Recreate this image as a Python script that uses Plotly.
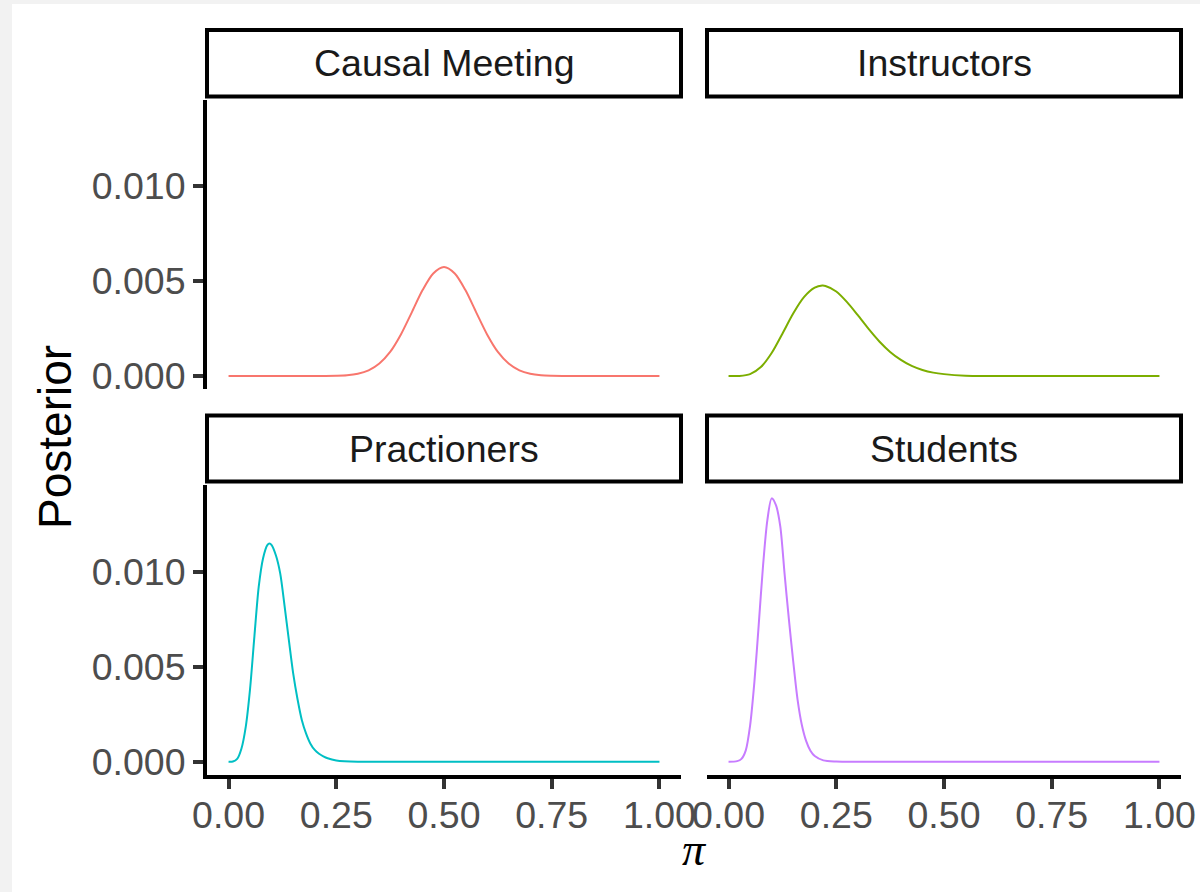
import plotly.graph_objects as go

# ---------------- data ----------------
panel_names = ["Causal Meeting", "Instructors", "Practioners", "Students"]
panel_colors = ["#F8766D", "#7CAE00", "#00BFC4", "#C77CFF"]

pi_causal = [0.0, 0.1, 0.2, 0.225, 0.25, 0.275, 0.3, 0.325, 0.35, 0.375, 0.4, 0.425, 0.45, 0.475,
             0.5, 0.525, 0.55, 0.575, 0.6, 0.625, 0.65, 0.675, 0.7, 0.725, 0.75, 0.775, 0.8, 0.9, 1.0]
post_causal = [0.0, 0.0, 0.000001, 0.000004, 0.000014, 0.00004, 0.00012, 0.00030, 0.00066, 0.00127,
               0.00219, 0.00334, 0.00451, 0.00540, 0.00574, 0.00540, 0.00451, 0.00334, 0.00219,
               0.00127, 0.00066, 0.00030, 0.00012, 0.00004, 0.000014, 0.000004, 0.000001, 0.0, 0.0]

pi_instr = [0.0, 0.025, 0.05, 0.075, 0.1, 0.125, 0.15, 0.175, 0.2, 0.2175, 0.225, 0.25, 0.275, 0.3,
            0.325, 0.35, 0.375, 0.4, 0.425, 0.45, 0.475, 0.5, 0.55, 0.6, 0.7, 0.8, 0.9, 1.0]
post_instr = [0.0, 0.000005, 0.00010, 0.00047, 0.00121, 0.00223, 0.00329, 0.00415, 0.00465, 0.00476,
              0.00474, 0.00445, 0.00389, 0.00320, 0.00248, 0.00182, 0.00127, 0.00085, 0.00053,
              0.00032, 0.00018, 0.00010, 0.00002, 0.000004, 0.0, 0.0, 0.0, 0.0]

pi_pract = [0.0, 0.01, 0.02, 0.03, 0.04, 0.05, 0.06, 0.07, 0.08, 0.09, 0.095, 0.10, 0.11, 0.12, 0.13,
            0.14, 0.15, 0.16, 0.17, 0.18, 0.19, 0.20, 0.21, 0.22, 0.23, 0.25, 0.30, 0.4, 0.6, 0.8, 1.0]
post_pract = [0.0, 0.00001, 0.00015, 0.00070, 0.00185, 0.00385, 0.00660, 0.00920, 0.01070, 0.01140,
              0.01148, 0.01140, 0.01085, 0.00990, 0.00820, 0.00640, 0.00465, 0.00330, 0.00220,
              0.00148, 0.00095, 0.00062, 0.00042, 0.00028, 0.00018, 0.00007, 0.0, 0.0, 0.0, 0.0, 0.0]

pi_stud = [0.0, 0.02, 0.03, 0.04, 0.05, 0.06, 0.07, 0.08, 0.09, 0.10, 0.11, 0.12, 0.13, 0.14, 0.15,
           0.16, 0.17, 0.18, 0.19, 0.20, 0.22, 0.25, 0.30, 0.4, 0.6, 0.8, 1.0]
post_stud = [0.0, 0.00003, 0.00015, 0.00060, 0.00190, 0.00420, 0.00720, 0.01030, 0.01270, 0.01386,
             0.01350, 0.01240, 0.00990, 0.00750, 0.00530, 0.00330, 0.00195, 0.00110, 0.00058,
             0.00030, 0.00007, 0.00001, 0.0, 0.0, 0.0, 0.0, 0.0]

x_tickvals = [0.0, 0.25, 0.5, 0.75, 1.0]
x_ticktext = ["0.00", "0.25", "0.50", "0.75", "1.00"]
y_tickvals = [0.0, 0.005, 0.010]
y_ticktext = ["0.000", "0.005", "0.010"]

x_title = "<i>π</i>"
y_title = "Posterior"

series = [(pi_causal, post_causal), (pi_instr, post_instr), (pi_pract, post_pract), (pi_stud, post_stud)]

# ---------------- layout helpers ----------------
W, H = 1200, 892
def fx(px):
    return px / W
def fy(py):
    return 1 - py / H

x_range = [-0.05, 1.05]
y_range = [-0.000693, 0.014553]

col_px = [(207, 681), (707, 1181)]
row_px = [(99.5, 389.2), (485.2, 774.9)]
strip_px = [(30, 96.5), (415.5, 481.5)]

fig = go.Figure()
for i, ((xs, ys), col) in enumerate(zip(series, panel_colors)):
    suffix = "" if i == 0 else str(i + 1)
    fig.add_trace(go.Scatter(
        x=xs, y=ys, mode="lines",
        line=dict(color=col, width=2, shape="spline", smoothing=0.8),
        xaxis="x" + suffix, yaxis="y" + suffix,
        showlegend=False, hoverinfo="skip"))

tick_font = dict(family="Liberation Sans, Arial, sans-serif", size=37.5, color="#4D4D4D")
axis_common = dict(showgrid=False, zeroline=False, linecolor="black", linewidth=4,
                   ticks="outside", ticklen=10, tickwidth=3.5, tickcolor="#333333",
                   tickfont=tick_font, fixedrange=True)

layout = dict(width=W, height=H, margin=dict(l=0, r=0, t=0, b=0, pad=0),
              paper_bgcolor="#F2F2F2", plot_bgcolor="rgba(0,0,0,0)", showlegend=False)

for i in range(4):
    r, c = divmod(i, 2)
    suffix = "" if i == 0 else str(i + 1)
    xd = [fx(col_px[c][0]), fx(col_px[c][1])]
    yd = [fy(row_px[r][1]), fy(row_px[r][0])]
    xa = dict(domain=xd, range=x_range, anchor="y" + suffix, automargin=False)
    ya = dict(domain=yd, range=y_range, anchor="x" + suffix, automargin=False)
    if r == 1:
        xa.update(axis_common, showline=True, tickvals=x_tickvals, ticktext=x_ticktext,
                  ticklabelstandoff=-6)
    else:
        xa.update(visible=False, showgrid=False, zeroline=False)
    if c == 0:
        ya.update(axis_common, showline=True, tickvals=y_tickvals, ticktext=y_ticktext)
    else:
        ya.update(visible=False, showgrid=False, zeroline=False)
    layout["xaxis" + suffix] = xa
    layout["yaxis" + suffix] = ya

shapes = [dict(type="rect", xref="paper", yref="paper", x0=fx(12), x1=1, y0=0, y1=fy(4),
               fillcolor="white", line=dict(width=0), layer="below")]
annotations = []
for i, name in enumerate(panel_names):
    r, c = divmod(i, 2)
    x0, x1 = col_px[c]
    y0, y1 = strip_px[r]
    shapes.append(dict(type="rect", xref="paper", yref="paper",
                       x0=fx(x0), x1=fx(x1), y0=fy(y1), y1=fy(y0),
                       fillcolor="white", line=dict(color="black", width=4)))
    annotations.append(dict(xref="paper", yref="paper", x=fx((x0 + x1) / 2), y=fy((y0 + y1) / 2),
                            text=name, showarrow=False, xanchor="center", yanchor="middle",
                            font=dict(family="Liberation Sans, Arial, sans-serif", size=37.5, color="#1A1A1A")))

annotations.append(dict(xref="paper", yref="paper", x=fx(694), y=fy(849), text=x_title,
                        showarrow=False, xanchor="center", yanchor="middle",
                        font=dict(family="Liberation Serif, Times New Roman, serif", size=46, color="black")))
annotations.append(dict(xref="paper", yref="paper", x=fx(55), y=fy(437), text=y_title,
                        showarrow=False, xanchor="center", yanchor="middle", textangle=-90,
                        font=dict(family="Liberation Sans, Arial, sans-serif", size=46, color="black")))

layout["shapes"] = shapes
layout["annotations"] = annotations
fig.update_layout(**layout)

fig.write_html("out.html", config={"displayModeBar": False},
               post_script="document.body.style.margin='0';document.documentElement.style.overflow='hidden';")
